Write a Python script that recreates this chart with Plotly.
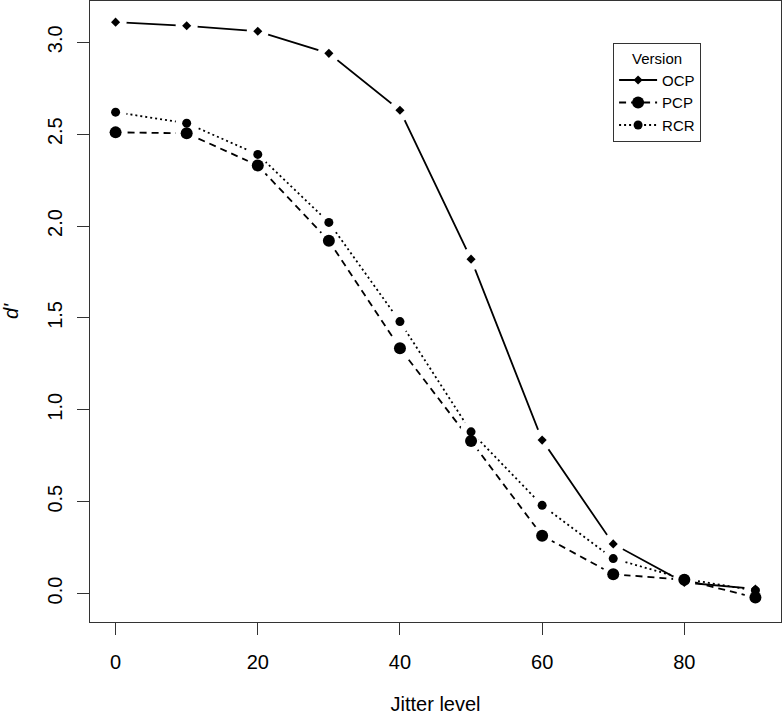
import plotly.graph_objects as go

# d' by jitter level for the three versions
jitter = [0, 10, 20, 30, 40, 50, 60, 70, 80, 90]
ocp = [3.11, 3.09, 3.06, 2.94, 2.63, 1.82, 0.835, 0.27, 0.06, 0.025]
pcp = [2.51, 2.505, 2.33, 1.92, 1.335, 0.83, 0.315, 0.105, 0.075, -0.022]
rcr = [2.62, 2.56, 2.39, 2.02, 1.48, 0.88, 0.48, 0.19, 0.08, 0.016]

series = [
    ("OCP", ocp, "solid", "diamond", 7),
    ("PCP", pcp, "7px,5px", "circle", 12),
    ("RCR", rcr, "2px,3px", "circle", 9),
]

fig = go.Figure()

# line + white halo in the same trace (points are drawn after the line inside a trace)
# -> gaps around the points like R's type="b"
for name, vals, dash, sym, size in series:
    fig.add_trace(go.Scatter(x=jitter, y=vals, mode="lines+markers",
                             line=dict(color="black", width=1.8, dash=dash),
                             marker=dict(symbol="circle", size=22, color="white",
                                         line=dict(width=0)),
                             showlegend=False, hoverinfo="skip"))
# the points
for name, vals, dash, sym, size in series:
    fig.add_trace(go.Scatter(x=jitter, y=vals, mode="markers", name=name,
                             marker=dict(symbol=sym, size=size, color="black"),
                             showlegend=False))
# legend entries
for name, vals, dash, sym, size in series:
    fig.add_trace(go.Scatter(x=[None], y=[None], mode="lines+markers", name=name,
                             line=dict(color="black", width=1.8, dash=dash),
                             marker=dict(symbol=sym, size=size, color="black")))

axis_common = dict(showline=True, linecolor="#333", linewidth=1, mirror=True,
                   ticks="outside", ticklen=12, tickcolor="#333", tickwidth=1,
                   showgrid=False, zeroline=False, automargin=False,
                   tickfont=dict(size=20, color="black"))

fig.update_layout(
    xaxis=dict(range=[-3.6, 93.6], tickvals=[0, 20, 40, 60, 80], ticklabelstandoff=10,
               title=dict(text="Jitter level", font=dict(size=20, color="black"), standoff=40),
               **axis_common),
    yaxis=dict(range=[-0.155, 3.225], tickvals=[0, 0.5, 1, 1.5, 2, 2.5, 3],
               tickformat=".1f", tickangle=-90, ticklabelstandoff=7,
               title=dict(text="<i>d'</i>", font=dict(size=20, color="black"), standoff=24),
               **axis_common),
    width=784, height=715,
    margin=dict(l=90, r=3, t=1, b=93),
    plot_bgcolor="white", paper_bgcolor="white",
    font=dict(family="Liberation Sans, Arial, sans-serif", color="black"),
    legend=dict(x=0.757, y=0.932, xanchor="left", yanchor="top",
                bordercolor="#333", borderwidth=1, bgcolor="white",
                itemwidth=38,
                font=dict(size=15, color="black"),
                title=dict(text="Version", side="top center", font=dict(size=15))),
)

fig.write_html("out.html", config={"displayModeBar": False},
               post_script="document.body.style.margin='0';")
